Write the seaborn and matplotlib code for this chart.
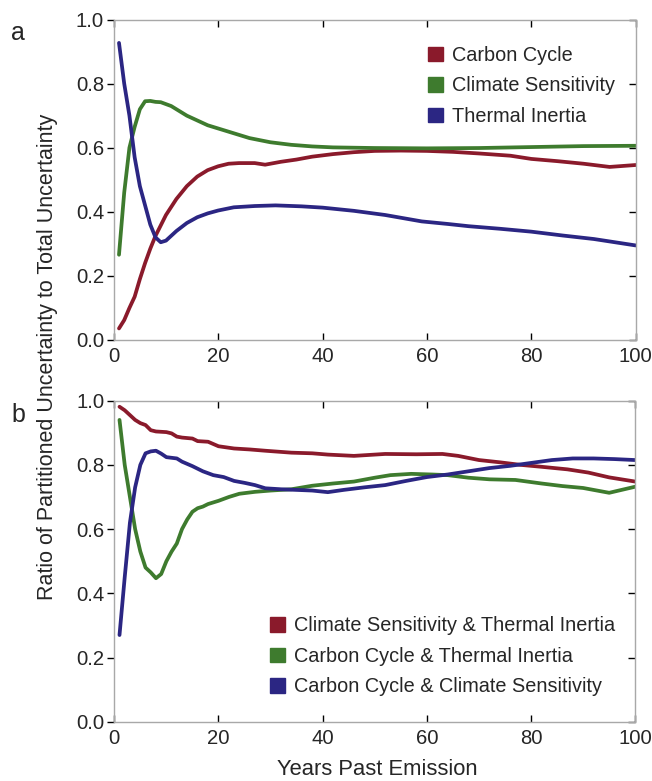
import numpy as np
import pandas as pd
import matplotlib
matplotlib.use("Agg")
import matplotlib.pyplot as plt
import seaborn as sns
from matplotlib.patches import Patch

# ---------------- data ----------------
# Panel a
a_cc_x = [1, 2, 3, 4, 5, 6, 7, 8, 10, 12, 14, 16, 18, 20, 22, 24, 27, 29, 32, 35, 38, 42, 46, 50, 55, 60, 65, 70, 76, 80, 85, 90, 95, 100]
a_cc_y = [0.036, 0.062, 0.10, 0.135, 0.19, 0.24, 0.285, 0.325, 0.39, 0.44, 0.48, 0.51, 0.53, 0.542, 0.55, 0.552, 0.552, 0.547, 0.556, 0.563, 0.572, 0.58, 0.586, 0.59, 0.591, 0.59, 0.587, 0.582, 0.575, 0.565, 0.558, 0.55, 0.54, 0.546]

a_cs_x = [1, 2, 3, 4, 5, 6, 7, 8, 9, 11, 12, 14, 16, 18, 20, 23, 26, 30, 34, 38, 42, 50, 60, 70, 80, 90, 100]
a_cs_y = [0.266, 0.46, 0.60, 0.665, 0.72, 0.745, 0.746, 0.743, 0.742, 0.73, 0.72, 0.70, 0.685, 0.67, 0.66, 0.645, 0.63, 0.617, 0.609, 0.604, 0.601, 0.599, 0.598, 0.599, 0.602, 0.605, 0.606]

a_ti_x = [1, 2, 3, 4, 5, 6, 7, 8, 9, 10, 12, 14, 16, 18, 20, 23, 27, 31, 36, 40, 46, 52, 59, 64, 68, 74, 80, 86, 92, 100]
a_ti_y = [0.927, 0.80, 0.70, 0.57, 0.48, 0.42, 0.36, 0.32, 0.305, 0.31, 0.34, 0.365, 0.383, 0.395, 0.404, 0.414, 0.418, 0.42, 0.417, 0.413, 0.403, 0.39, 0.37, 0.362, 0.355, 0.347, 0.338, 0.326, 0.315, 0.295]

# Panel b
b_cs_ti_x = [1, 2, 3, 4, 5, 6, 7, 8, 10, 11, 12, 13, 15, 16, 18, 20, 23, 26, 29, 34, 38, 41, 46, 52, 58, 63, 66, 70, 74, 78, 82, 87, 91, 95, 100]
b_cs_ti_y = [0.981, 0.97, 0.955, 0.94, 0.93, 0.924, 0.908, 0.904, 0.902, 0.898, 0.888, 0.885, 0.882, 0.874, 0.872, 0.858, 0.851, 0.848, 0.844, 0.838, 0.836, 0.832, 0.828, 0.834, 0.833, 0.834, 0.828, 0.815, 0.808, 0.80, 0.794, 0.786, 0.776, 0.761, 0.748]

b_cc_ti_x = [1, 2, 3, 4, 5, 6, 7, 8, 9, 10, 11, 12, 13, 14, 15, 16, 17, 18, 20, 22, 24, 27, 30, 34, 38, 42, 46, 50, 53, 57, 61, 64, 68, 72, 77, 82, 86, 90, 95, 100]
b_cc_ti_y = [0.94, 0.80, 0.70, 0.60, 0.53, 0.48, 0.465, 0.447, 0.46, 0.50, 0.53, 0.555, 0.60, 0.63, 0.654, 0.665, 0.67, 0.678, 0.688, 0.70, 0.71, 0.716, 0.72, 0.724, 0.735, 0.742, 0.748, 0.76, 0.768, 0.772, 0.77, 0.768, 0.76, 0.755, 0.753, 0.742, 0.734, 0.728, 0.713, 0.732]

b_cc_cs_x = [1, 2, 3, 4, 5, 6, 7, 8, 9, 10, 12, 13, 15, 17, 19, 21, 23, 25, 27, 29, 32, 35, 38, 41, 44, 48, 52, 56, 60, 64, 68, 72, 76, 80, 84, 88, 92, 96, 100]
b_cc_cs_y = [0.27, 0.45, 0.62, 0.73, 0.80, 0.836, 0.842, 0.844, 0.835, 0.824, 0.82, 0.81, 0.796, 0.78, 0.768, 0.762, 0.75, 0.744, 0.737, 0.727, 0.724, 0.722, 0.72, 0.715, 0.722, 0.73, 0.737, 0.75, 0.762, 0.77, 0.78, 0.79, 0.797, 0.806, 0.815, 0.82, 0.82, 0.818, 0.815]

labels_a = ["Carbon Cycle", "Climate Sensitivity", "Thermal Inertia"]
labels_b = ["Climate Sensitivity & Thermal Inertia", "Carbon Cycle & Thermal Inertia",
            "Carbon Cycle & Climate Sensitivity"]
colors = ["#8a1a2b", "#3e7b2e", "#2b2683"]
yticks = [0.0, 0.2, 0.4, 0.6, 0.8, 1.0]
xticks = [0, 20, 40, 60, 80, 100]


def long_df(xs, ys, labels):
    frames = []
    for x, y, lab in zip(xs, ys, labels):
        frames.append(pd.DataFrame({"year": x, "ratio": y, "series": lab}))
    return pd.concat(frames, ignore_index=True)


df_a = long_df([a_cc_x, a_cs_x, a_ti_x], [a_cc_y, a_cs_y, a_ti_y], labels_a)
df_b = long_df([b_cs_ti_x, b_cc_ti_x, b_cc_cs_x], [b_cs_ti_y, b_cc_ti_y, b_cc_cs_y], labels_b)

sns.set_style("white")
plt.rcParams["font.family"] = ["Liberation Sans", "DejaVu Sans"]

fig = plt.figure(figsize=(6.52, 7.81), dpi=100)
ax_a = fig.add_axes([0.1745, 0.5647, 0.8005, 0.4103])
ax_b = fig.add_axes([0.1753, 0.0759, 0.7990, 0.4111])

for ax, df, labels, legloc in [(ax_a, df_a, labels_a, (0.602, 0.918)),
                                (ax_b, df_b, labels_b, (0.299, 0.328))]:
    pal = dict(zip(labels, colors))
    sns.lineplot(data=df, x="year", y="ratio", hue="series", hue_order=labels,
                 palette=pal, ax=ax, linewidth=2.7, legend=False, estimator=None,
                 sort=True)
    ax.set_xlim(0, 100)
    ax.set_ylim(0, 1)
    ax.set_xticks(xticks)
    ax.set_yticks(yticks)
    ax.set_yticklabels([f"{t:.1f}" for t in yticks])
    ax.set_xlabel("")
    ax.set_ylabel("")
    for s in ax.spines.values():
        s.set_color("#a8a8a8")
        s.set_linewidth(1.0)
    ax.tick_params(axis="x", direction="in", length=5, width=1, color="black",
                   top=True, bottom=True, labelsize=14.6, pad=5)
    ax.tick_params(axis="y", direction="out", length=5, width=1, color="black",
                   left=True, labelsize=14.6, pad=2)
    sec = ax.secondary_yaxis("right")
    sec.set_yticks(yticks)
    sec.tick_params(axis="y", direction="in", length=5, width=1, color="black",
                    labelright=False)
    sec.spines["right"].set_visible(False)
    handles = [Patch(facecolor=c, edgecolor=c) for c in colors]
    ax.legend(handles, labels, loc="upper left", bbox_to_anchor=legloc,
              frameon=False, fontsize=14.3, handlelength=0.75, handleheight=0.75,
              handletextpad=0.45, labelspacing=0.58, borderaxespad=0, borderpad=0)

fig.text(0.028, 0.958, "a", fontsize=18, ha="center", va="center")
fig.text(0.028, 0.468, "b", fontsize=18, ha="center", va="center")
fig.text(0.073, 0.5435, "Ratio of Partitioned Uncertainty to Total Uncertainty",
         rotation=90, ha="center", va="center", fontsize=15.5)
fig.text(0.579, 0.015, "Years Past Emission", ha="center", va="center", fontsize=15.8)

fig.savefig("out.png", dpi=100)
